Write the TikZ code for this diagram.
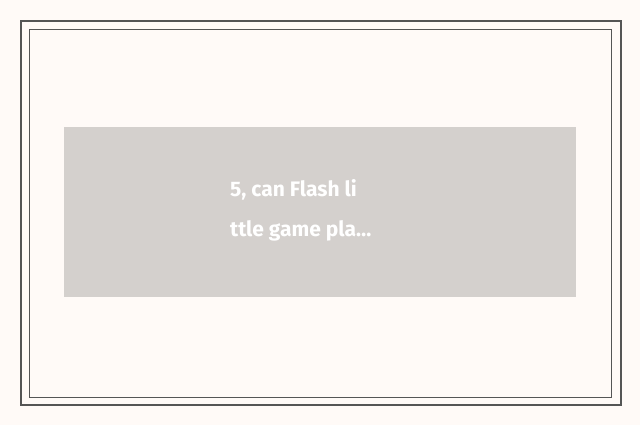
\documentclass[tikz,border=0pt]{standalone}
\usepackage{fontspec}
\setsansfont{Fira Sans}
\definecolor{paper}{HTML}{FFFAF7}
\definecolor{frame}{HTML}{555555}
\definecolor{panel}{HTML}{D4D0CD}
\begin{document}
\begin{tikzpicture}[
        x=1pt, y=-1pt,
        caption/.style={font=\sffamily\bfseries\fontsize{21}{41}\selectfont, text=white, anchor=west, inner sep=0pt}
    ]
    \useasboundingbox[fill=paper] (0,0) rectangle (640,425);

    % double frame
    \draw[frame, line width=1.5pt] (21,21) rectangle (621,405);
    \draw[frame, line width=0.8pt] (29,29) rectangle (611,397);

    % grey panel with the text
    \node[fill=panel, minimum width=512pt, minimum height=170pt, inner sep=0pt, anchor=north west] (panel) at (64,127) {};
    \node[caption] (line1) at (230,190) {5, can Flash li};
    \node[caption] (line2) at (230,231) {ttle game pla…};
\end{tikzpicture}
\end{document}
